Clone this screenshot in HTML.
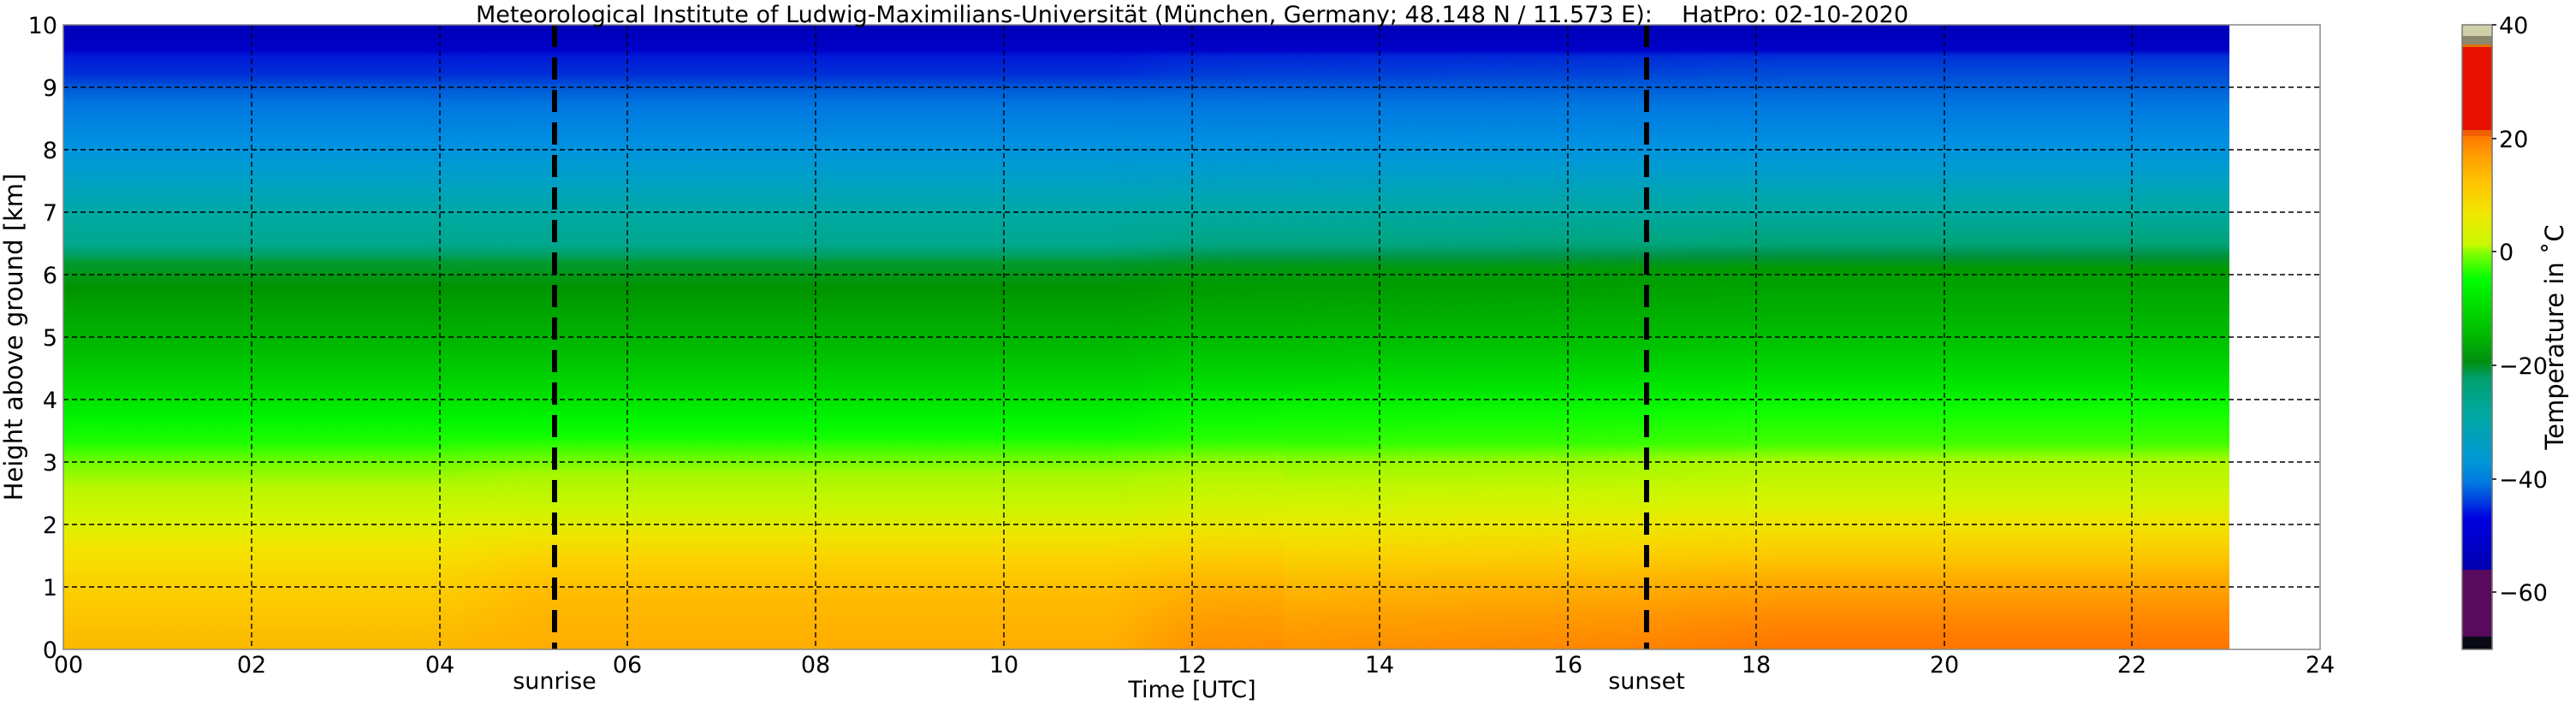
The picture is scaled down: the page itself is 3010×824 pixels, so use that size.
<!DOCTYPE html>
<html><head><meta charset="utf-8"><style>
html,body{margin:0;padding:0;background:#fff;width:3010px;height:824px;overflow:hidden}
svg text{font-family:"DejaVu Sans","Liberation Sans",sans-serif;fill:#000}
</style></head><body>
<svg width="3010" height="824" viewBox="0 0 3010 824" xmlns="http://www.w3.org/2000/svg">
<defs>
<linearGradient id="gm" x1="0" y1="0" x2="0" y2="1">
<stop offset="0" stop-color="#0000b8"/><stop offset="0.04" stop-color="#0000c8"/>
<stop offset="0.05" stop-color="#0018d8"/><stop offset="0.08" stop-color="#0030d8"/>
<stop offset="0.1" stop-color="#0058d8"/><stop offset="0.13" stop-color="#0078e0"/>
<stop offset="0.19" stop-color="#0090e0"/><stop offset="0.23" stop-color="#009cd0"/>
<stop offset="0.27" stop-color="#00a4b8"/><stop offset="0.3" stop-color="#00a8a4"/>
<stop offset="0.35" stop-color="#00a890"/><stop offset="0.37" stop-color="#00a060"/>
<stop offset="0.38" stop-color="#009a30"/><stop offset="0.42" stop-color="#009400"/>
<stop offset="0.46" stop-color="#00a400"/><stop offset="0.52" stop-color="#00bc00"/>
<stop offset="0.58" stop-color="#00d800"/><stop offset="0.63" stop-color="#00f400"/>
<stop offset="0.67" stop-color="#20ff00"/><stop offset="0.7" stop-color="#70fc00"/>
<stop offset="0.74" stop-color="#b8f800"/><stop offset="0.79" stop-color="#d8f400"/>
<stop offset="0.84" stop-color="#f4e400"/><stop offset="0.9" stop-color="#fcd000"/>
<stop offset="1" stop-color="#fcb800"/>
</linearGradient>
<linearGradient id="gd" x1="0" y1="0" x2="0" y2="1">
<stop offset="0" stop-color="#0000b8"/><stop offset="0.04" stop-color="#0000c8"/>
<stop offset="0.05" stop-color="#0018d8"/><stop offset="0.08" stop-color="#0030d8"/>
<stop offset="0.1" stop-color="#0058d8"/><stop offset="0.13" stop-color="#0078e0"/>
<stop offset="0.19" stop-color="#0090e0"/><stop offset="0.23" stop-color="#009cd0"/>
<stop offset="0.27" stop-color="#00a4b8"/><stop offset="0.3" stop-color="#00a8a4"/>
<stop offset="0.35" stop-color="#00a890"/><stop offset="0.37" stop-color="#00a060"/>
<stop offset="0.38" stop-color="#009a30"/><stop offset="0.42" stop-color="#009400"/>
<stop offset="0.46" stop-color="#00a400"/><stop offset="0.52" stop-color="#00bc00"/>
<stop offset="0.58" stop-color="#00d800"/><stop offset="0.63" stop-color="#00f400"/>
<stop offset="0.66" stop-color="#10ff00"/><stop offset="0.69" stop-color="#60fc00"/>
<stop offset="0.72" stop-color="#a8f800"/><stop offset="0.78" stop-color="#d0f400"/>
<stop offset="0.82" stop-color="#f0e400"/><stop offset="0.86" stop-color="#fcd000"/>
<stop offset="0.91" stop-color="#ffbc00"/><stop offset="1" stop-color="#ffac00"/>
</linearGradient>
<linearGradient id="ge" x1="0" y1="0" x2="0" y2="1">
<stop offset="0" stop-color="#0000b8"/><stop offset="0.04" stop-color="#0000c8"/>
<stop offset="0.05" stop-color="#0030d8"/><stop offset="0.1" stop-color="#0060d8"/>
<stop offset="0.13" stop-color="#0078e0"/><stop offset="0.19" stop-color="#0090e0"/>
<stop offset="0.23" stop-color="#009cd0"/><stop offset="0.27" stop-color="#00a4b0"/>
<stop offset="0.3" stop-color="#00a8a0"/><stop offset="0.35" stop-color="#00a478"/>
<stop offset="0.37" stop-color="#009040"/><stop offset="0.39" stop-color="#009a00"/>
<stop offset="0.46" stop-color="#00b000"/><stop offset="0.52" stop-color="#00c800"/>
<stop offset="0.58" stop-color="#00e800"/><stop offset="0.62" stop-color="#10ff00"/>
<stop offset="0.67" stop-color="#40ff00"/><stop offset="0.7" stop-color="#b0f800"/>
<stop offset="0.76" stop-color="#d4f400"/><stop offset="0.8" stop-color="#f0e400"/>
<stop offset="0.85" stop-color="#fcc800"/><stop offset="0.9" stop-color="#ffa400"/>
<stop offset="0.95" stop-color="#ff8800"/><stop offset="1" stop-color="#ff7400"/>
</linearGradient>
<linearGradient id="m1" x1="0" y1="0" x2="1" y2="0">
<stop offset="0" stop-color="#fff" stop-opacity="0"/><stop offset="0.12" stop-color="#fff" stop-opacity="1"/><stop offset="1" stop-color="#fff" stop-opacity="1"/>
</linearGradient>
<mask id="mk1" maskUnits="userSpaceOnUse" x="0" y="0" width="3010" height="824">
<rect x="500" y="29" width="1000" height="730" fill="url(#m1)"/>
</mask>
<linearGradient id="m2" x1="0" y1="0" x2="1" y2="0">
<stop offset="0" stop-color="#fff" stop-opacity="0"/><stop offset="0.08" stop-color="#fff" stop-opacity="0.5"/><stop offset="0.45" stop-color="#fff" stop-opacity="0.75"/><stop offset="0.6" stop-color="#fff" stop-opacity="1"/><stop offset="1" stop-color="#fff" stop-opacity="1"/>
</linearGradient>
<mask id="mk2" maskUnits="userSpaceOnUse" x="0" y="0" width="3010" height="824">
<rect x="1300" y="29" width="1305" height="730" fill="url(#m2)"/>
</mask>
</defs>
<!-- data -->
<rect x="74" y="29" width="2531" height="730" fill="url(#gm)"/>
<rect x="500" y="29" width="2105" height="730" fill="url(#gd)" mask="url(#mk1)"/>
<rect x="1300" y="29" width="1305" height="730" fill="url(#ge)" mask="url(#mk2)"/>
<!-- grid -->
<g stroke="#000" stroke-width="1.4" stroke-dasharray="6,4" fill="none">
<path d="M74 102H2711M74 175H2711M74 248H2711M74 321H2711M74 394H2711M74 467H2711M74 540H2711M74 613H2711M74 686H2711"/>
<path d="M294 29V759M514 29V759M733 29V759M953 29V759M1173 29V759M1393 29V759M1612 29V759M1832 29V759M2052 29V759M2272 29V759M2491 29V759"/>
</g>
<g stroke="#000" stroke-width="6" stroke-dasharray="26,12">
<line x1="648" y1="29" x2="648" y2="759"/><line x1="1924" y1="29" x2="1924" y2="759"/>
</g>
<rect x="74" y="29" width="2637" height="730" fill="none" stroke="#888" stroke-width="1.5"/>
<!-- ticks labels -->
<g font-size="27" text-anchor="end">
<text x="67" y="39">10</text><text x="67" y="112">9</text><text x="67" y="185">8</text><text x="67" y="258">7</text><text x="67" y="331">6</text><text x="67" y="404">5</text><text x="67" y="477">4</text><text x="67" y="550">3</text><text x="67" y="623">2</text><text x="67" y="696">1</text><text x="67" y="769">0</text>
</g>
<g font-size="27" text-anchor="middle">
<text x="80" y="786">00</text><text x="294" y="786">02</text><text x="514" y="786">04</text><text x="733" y="786">06</text><text x="953" y="786">08</text><text x="1173" y="786">10</text><text x="1393" y="786">12</text><text x="1612" y="786">14</text><text x="1832" y="786">16</text><text x="2052" y="786">18</text><text x="2272" y="786">20</text><text x="2491" y="786">22</text><text x="2711" y="786">24</text>
<text x="648" y="805">sunrise</text><text x="1924" y="805">sunset</text>
<text x="1393" y="815">Time [UTC]</text>
</g>
<text x="1393" y="26" font-size="27" text-anchor="middle" xml:space="preserve">Meteorological Institute of Ludwig-Maximilians-Universität (München, Germany; 48.148 N / 11.573 E):    HatPro: 02-10-2020</text>
<text transform="translate(26,394) rotate(-90)" font-size="29" text-anchor="middle">Height above ground [km]</text>
<!-- colorbar -->
<g>
<rect x="2877" y="29" width="35" height="13" fill="#d0d0a8"/>
<rect x="2877" y="42" width="35" height="11" fill="#8c8870"/>
<rect x="2877" y="52" width="35" height="4" fill="#e07000"/>
<rect x="2877" y="55" width="35" height="98" fill="#e81000"/>
<rect x="2877" y="152" width="35" height="7" fill="#f06000"/>
<linearGradient id="cw" x1="0" y1="159" x2="0" y2="666" gradientUnits="userSpaceOnUse">
<stop offset="0" stop-color="#ff7800"/>
<stop offset="0.05" stop-color="#ffa000"/>
<stop offset="0.1" stop-color="#ffc000"/>
<stop offset="0.18" stop-color="#f0e800"/>
<stop offset="0.25" stop-color="#c8f800"/>
<stop offset="0.27" stop-color="#80ff00"/>
<stop offset="0.33" stop-color="#00ff00"/>
<stop offset="0.4" stop-color="#00d800"/>
<stop offset="0.46" stop-color="#00b800"/>
<stop offset="0.52" stop-color="#009010"/>
<stop offset="0.56" stop-color="#00a070"/>
<stop offset="0.64" stop-color="#00a8a0"/>
<stop offset="0.75" stop-color="#0098d8"/>
<stop offset="0.8" stop-color="#0078e0"/>
<stop offset="0.84" stop-color="#0040e0"/>
<stop offset="0.88" stop-color="#0000e0"/>
<stop offset="1" stop-color="#0000b0"/>
</linearGradient>
<rect x="2877" y="159" width="35" height="507" fill="url(#cw)"/>
<rect x="2877" y="666" width="35" height="78" fill="#580a5c"/>
<rect x="2877" y="744" width="35" height="15" fill="#0a0a14"/>
<rect x="2877" y="29" width="35" height="730" fill="none" stroke="#777" stroke-width="1.5"/>
<g stroke="#000" stroke-width="1.5"><path d="M2912 29h5M2912 162h5M2912 294h5M2912 427h5M2912 560h5M2912 692h5"/></g>
<g font-size="27"><text x="2920" y="39">40</text><text x="2920" y="172">20</text><text x="2920" y="304">0</text><text x="2920" y="437">−20</text><text x="2920" y="570">−40</text><text x="2920" y="702">−60</text></g>
<text transform="translate(2995,394) rotate(-90)" font-size="29" text-anchor="middle" xml:space="preserve">Temperature in ˚C</text>
</g>
</svg>
</body></html>
